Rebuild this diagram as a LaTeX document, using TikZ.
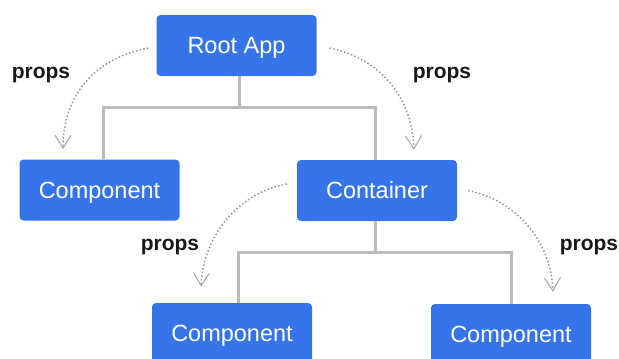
\documentclass[tikz,border=0pt]{standalone}
\usepackage{fontspec}
\setmainfont{Liberation Sans}
\usetikzlibrary{arrows.meta,calc}
\definecolor{boxblue}{RGB}{53,116,233}
\definecolor{treegray}{RGB}{187,187,187}
\definecolor{flowgray}{RGB}{150,150,150}
\tikzset{
  comp/.style={fill=boxblue, rounded corners=4pt, text=white, minimum width=160pt,
    minimum height=61pt, inner sep=0pt, text height=16.5pt, text depth=0pt,
    font=\fontsize{23.5}{27}\selectfont},
  tree/.style={draw=treegray, line width=3pt},
  flow/.style={draw=flowgray, line width=1.5pt, dash pattern=on 1.5pt off 2.2pt,
    -{Straight Barb[length=13pt,width=16pt,line width=1.1pt,color=flowgray!80]}},
  lbl/.style={font=\fontsize{21}{24}\selectfont\bfseries, text=black!90, inner sep=0pt, anchor=base}
}
\begin{document}
\begin{tikzpicture}[x=1pt,y=-1pt]
  \useasboundingbox (0,0) rectangle (619,359);
  \clip (0,0) rectangle (619,359);

  % components
  \node[comp] (root) at (236.5,45.5) {Root App};
  \node[comp] (lc)   at (99.5,190)   {Component};
  \node[comp] (cont) at (377,190.5)  {Container};
  \node[comp] (bl)   at (232,333.5)  {Component};
  \node[comp] (br)   at (511,334.5)  {Component};

  % tree connectors (stems sit a little off the box centres)
  \draw[tree] ($(root.south)+(2.5,0)$) -- ++(0,31) coordinate (j1);
  \draw[tree] ($(lc.north)+(3.5,0)$) |- (j1) -| ($(cont.north)+(-2,0)$);
  \draw[tree] ($(cont.south)+(-1.5,0)$) -- ++(0,31) coordinate (j2);
  \draw[tree] ($(bl.north)+(6,0)$) |- (j2) -| (br.north);

  % props flow arrows
  \draw[flow] ($(root.west)+(-8,2.5)$) .. controls (95,58) and (63,95) .. ($(lc.north)+(-36.5,-10)$);
  \draw[flow] ($(root.east)+(13,2.5)$) .. controls (378,58) and (412,95) .. ($(cont.north)+(37,-10)$);
  \draw[flow] ($(cont.west)+(-10,-6.5)$) .. controls (240,192) and (203,235) .. ($(bl.north)+(-31,-16)$);
  \draw[flow] ($(cont.east)+(11,0)$) .. controls (515,200) and (551,240) .. ($(br.north)+(42,-12)$);

  % labels
  \node[lbl] (p1) at (41,78)   {props};
  \node[lbl] (p2) at (442,78)  {props};
  \node[lbl] (p3) at (170,250) {props};
  \node[lbl] (p4) at (589,250) {props};
\end{tikzpicture}
\end{document}
